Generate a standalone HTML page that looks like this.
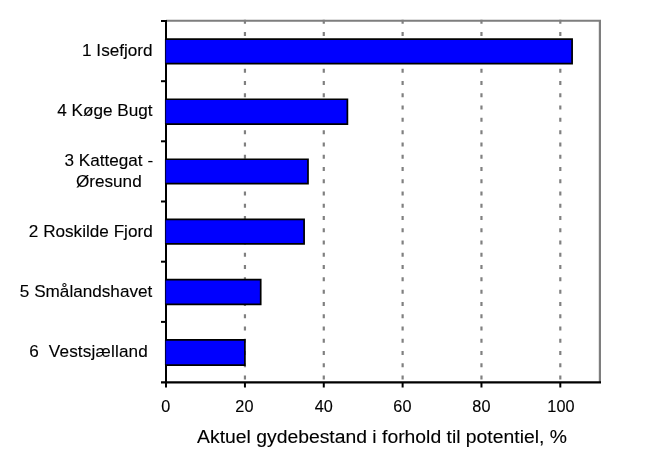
<!DOCTYPE html>
<html lang="da"><head><meta charset="utf-8"><title>Aktuel gydebestand</title>
<style>html,body{margin:0;padding:0;background:#fff}svg{display:block}</style></head>
<body>
<svg width="646" height="471" viewBox="0 0 646 471" font-family="'Liberation Sans', Arial, sans-serif" fill="#000">
<rect width="646" height="471" fill="#fff"/>
<path d="M166 20.75 H599.9 V382" fill="none" stroke="#7e7e7e" stroke-width="2.2"/>
<line x1="244.94" y1="19.7" x2="244.94" y2="381" stroke="#808080" stroke-width="2.2" stroke-dasharray="4 8.27"/>
<line x1="323.78" y1="19.7" x2="323.78" y2="381" stroke="#808080" stroke-width="2.2" stroke-dasharray="4 8.27"/>
<line x1="402.62" y1="19.7" x2="402.62" y2="381" stroke="#808080" stroke-width="2.2" stroke-dasharray="4 8.27"/>
<line x1="481.46" y1="19.7" x2="481.46" y2="381" stroke="#808080" stroke-width="2.2" stroke-dasharray="4 8.27"/>
<line x1="560.3" y1="19.7" x2="560.3" y2="381" stroke="#808080" stroke-width="2.2" stroke-dasharray="4 8.27"/>
<rect x="245.6" y="339.5" width="1.3" height="26" fill="#fff"/>
<path d="M166 20 V383" stroke="#000" stroke-width="2" fill="none"/>
<path d="M161 382.4 H601" stroke="#000" stroke-width="2.4" fill="none"/>
<rect x="165.0" y="39.05" width="407.1" height="24.50" fill="#0000ff"/>
<path d="M165.0 39.05 H572.1 V63.55 H165.0" fill="none" stroke="#000" stroke-width="1.7"/>
<line x1="165.5" y1="39.05" x2="165.5" y2="63.55" stroke="#000" stroke-opacity="0.7" stroke-width="1.2"/>
<rect x="165.0" y="99.25" width="182.4" height="24.80" fill="#0000ff"/>
<path d="M165.0 99.25 H347.4 V124.05 H165.0" fill="none" stroke="#000" stroke-width="1.7"/>
<line x1="165.5" y1="99.25" x2="165.5" y2="124.05" stroke="#000" stroke-opacity="0.7" stroke-width="1.2"/>
<rect x="165.0" y="159.25" width="143.0" height="24.30" fill="#0000ff"/>
<path d="M165.0 159.25 H308.0 V183.55 H165.0" fill="none" stroke="#000" stroke-width="1.7"/>
<line x1="165.5" y1="159.25" x2="165.5" y2="183.55" stroke="#000" stroke-opacity="0.7" stroke-width="1.2"/>
<rect x="165.0" y="219.45" width="139.1" height="24.40" fill="#0000ff"/>
<path d="M165.0 219.45 H304.1 V243.85 H165.0" fill="none" stroke="#000" stroke-width="1.7"/>
<line x1="165.5" y1="219.45" x2="165.5" y2="243.85" stroke="#000" stroke-opacity="0.7" stroke-width="1.2"/>
<rect x="165.0" y="279.65" width="95.7" height="24.80" fill="#0000ff"/>
<path d="M165.0 279.65 H260.7 V304.45 H165.0" fill="none" stroke="#000" stroke-width="1.7"/>
<line x1="165.5" y1="279.65" x2="165.5" y2="304.45" stroke="#000" stroke-opacity="0.7" stroke-width="1.2"/>
<rect x="165.0" y="339.85" width="79.9" height="25.30" fill="#0000ff"/>
<path d="M165.0 339.85 H244.9 V365.15 H165.0" fill="none" stroke="#000" stroke-width="1.7"/>
<line x1="165.5" y1="339.85" x2="165.5" y2="365.15" stroke="#000" stroke-opacity="0.7" stroke-width="1.2"/>
<line x1="161" y1="21.0" x2="166" y2="21.0" stroke="#000" stroke-width="2"/>
<line x1="161" y1="81.2" x2="166" y2="81.2" stroke="#000" stroke-width="2"/>
<line x1="161" y1="141.3" x2="166" y2="141.3" stroke="#000" stroke-width="2"/>
<line x1="161" y1="201.5" x2="166" y2="201.5" stroke="#000" stroke-width="2"/>
<line x1="161" y1="261.7" x2="166" y2="261.7" stroke="#000" stroke-width="2"/>
<line x1="161" y1="321.9" x2="166" y2="321.9" stroke="#000" stroke-width="2"/>
<line x1="166.0" y1="382" x2="166.0" y2="387.5" stroke="#000" stroke-width="2"/>
<text transform="translate(165.8 411.8) scale(1.03 1)" font-size="15.8" text-anchor="middle" stroke="#000" stroke-width="0.12">0</text>
<line x1="244.94" y1="382" x2="244.94" y2="387.5" stroke="#000" stroke-width="2"/>
<text transform="translate(244.4 411.8) scale(1.03 1)" font-size="15.8" text-anchor="middle" stroke="#000" stroke-width="0.12">20</text>
<line x1="323.78" y1="382" x2="323.78" y2="387.5" stroke="#000" stroke-width="2"/>
<text transform="translate(323.7 411.8) scale(1.03 1)" font-size="15.8" text-anchor="middle" stroke="#000" stroke-width="0.12">40</text>
<line x1="402.62" y1="382" x2="402.62" y2="387.5" stroke="#000" stroke-width="2"/>
<text transform="translate(402.4 411.8) scale(1.03 1)" font-size="15.8" text-anchor="middle" stroke="#000" stroke-width="0.12">60</text>
<line x1="481.46" y1="382" x2="481.46" y2="387.5" stroke="#000" stroke-width="2"/>
<text transform="translate(481.4 411.8) scale(1.03 1)" font-size="15.8" text-anchor="middle" stroke="#000" stroke-width="0.12">80</text>
<line x1="560.3" y1="382" x2="560.3" y2="387.5" stroke="#000" stroke-width="2"/>
<text transform="translate(560.9 411.8) scale(1.03 1)" font-size="15.8" text-anchor="middle" stroke="#000" stroke-width="0.12">100</text>
<text x="152.6" y="55.8" font-size="17.15" text-anchor="end" stroke="#000" stroke-width="0.12">1 Isefjord</text>
<text x="152.6" y="115.8" font-size="17.15" text-anchor="end" stroke="#000" stroke-width="0.12">4 Køge Bugt</text>
<text x="152.7" y="236.8" font-size="17.15" text-anchor="end" stroke="#000" stroke-width="0.12">2 Roskilde Fjord</text>
<text x="152.3" y="296.9" font-size="17.15" text-anchor="end" stroke="#000" stroke-width="0.12">5 Smålandshavet</text>
<text x="108.8" y="165.6" font-size="17.15" text-anchor="middle" stroke="#000" stroke-width="0.12">3 Kattegat -</text>
<text x="108.8" y="186.5" font-size="17.15" text-anchor="middle" stroke="#000" stroke-width="0.12">Øresund</text>
<text x="148" y="356.8" font-size="17.15" text-anchor="end" letter-spacing="0.17" xml:space="preserve" style="white-space:pre" stroke="#000" stroke-width="0.12">6  Vestsjælland</text>
<text transform="translate(382 443.35) scale(1.035 1)" font-size="18.7" text-anchor="middle" stroke="#000" stroke-width="0.12">Aktuel gydebestand i forhold til potentiel, %</text>
</svg>
</body></html>
